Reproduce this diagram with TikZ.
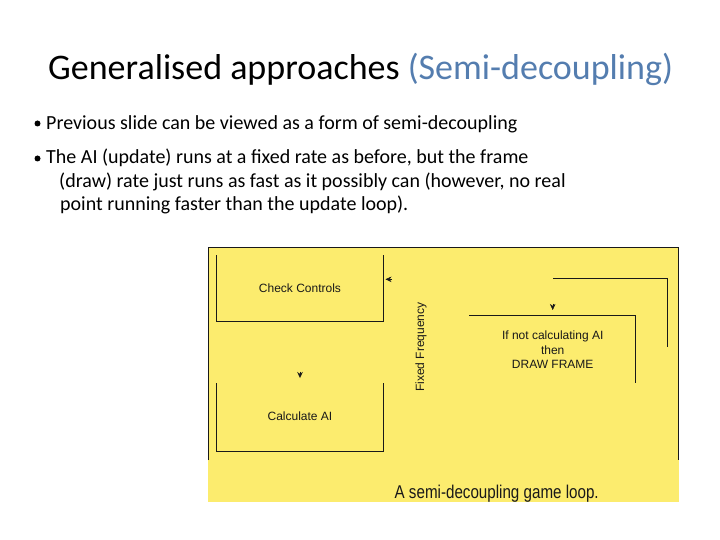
\documentclass[tikz,border=0pt]{standalone}
\usepackage{fontspec}
\setmainfont{Carlito}
\newfontfamily\diagfont{Liberation Sans}
\usepackage{tikz}
\usetikzlibrary{arrows.meta}

\begin{document}
\begin{tikzpicture}[x=1pt,y=-1pt]
		
		\definecolor{titleblue}{RGB}{84,125,175}
		\definecolor{loopyellow}{RGB}{252,236,110}
		\definecolor{inkgray}{RGB}{25,25,25}
		
		\useasboundingbox (0,0) rectangle (720,540);
		
		\tikzstyle{edge} = [draw,inkgray,line width=0.9pt]
		\tikzstyle{arrowhead} = [inkgray,-{Stealth[length=6pt,width=5.5pt]}]
		
		% slide text
		\tikzset{slidetext/.style = {anchor=base west,inner sep=0pt,font=\fontsize{20}{24}\selectfont}}
		\node[anchor=base west,inner sep=0pt,font=\fontsize{36}{42}\selectfont] (title) at (48,80)
			{Generalised approaches \textcolor{titleblue}{(Semi-decoupling)}};
		\node[slidetext] (b1) at (46,129.3) {Previous slide can be viewed as a form of semi-decoupling};
		\node[slidetext] (b2) at (46,164) {The AI (update) runs at a fixed rate as before, but the frame};
		\node[slidetext] (b2b) at (59,187.5) {(draw) rate just runs as fast as it possibly can (however, no real};
		\node[slidetext] (b2c) at (60,211) {point running faster than the update loop).};
		
		\tikzset{dot/.style = {shape=circle,fill=black,inner sep=0pt,minimum size=6pt}}
		\node[dot] (d1) at (37.5,123.5) {};
		\node[dot] (d2) at (37.5,158.5) {};
		
		% yellow panel
		\fill[loopyellow] (208,247) rectangle (679,502);
		\draw[edge] (208,460) -- (208,247) -- (678,247) -- (678,460);
		
		\tikzset{box/.style = {inner sep=0pt,text=inkgray,font=\diagfont\fontsize{12}{14.4}\selectfont,align=center}}
		\node[box] (check) at  (300,288) {Check Controls};
		\node[box] (calc) at  (300,416) {Calculate AI};
		\node[box,rotate=90] (freq) at  (421,347) {Fixed Frequency};
		\node[box] (draw) at  (552.7,350) {If not calculating AI\\then\\DRAW FRAME};
		%\node[box] (update) at  (300,350) {};
		
		\draw[edge] (216.7,255) -- (216.7,321.7) -- (383.3,321.7) -- (383.3,255);
		\draw[edge] (216.7,383.3) -- (216.7,451) -- (383.3,451) -- (383.3,383.3);
		\draw[edge] (553.3,278.3) -- (667.7,278.3) -- (667.7,347.3);
		\draw[edge] (469.3,315.3) -- (635.7,315.3) -- (635.7,382.7);
		
		\draw[arrowhead] (392,279.3) -- (385.5,279.3);
		\draw[arrowhead] (300,371.5) -- (300,378);
		\draw[arrowhead] (552.7,303.5) -- (552.7,310);
		
		\node[anchor=base,inner sep=0pt,text=inkgray,xscale=0.82,font=\diagfont\fontsize{18.5}{22}\selectfont] (caption) at (496.7,498.3)
			{A semi-decoupling game loop.};
		
\end{tikzpicture}
\end{document}
